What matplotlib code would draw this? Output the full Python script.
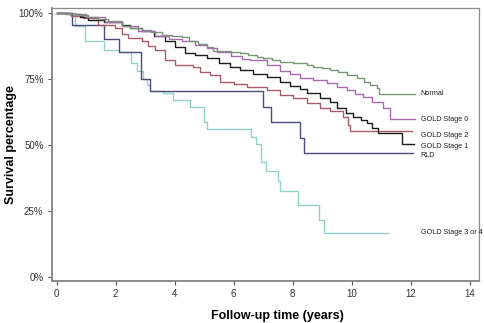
import matplotlib
matplotlib.use('Agg')
import matplotlib.pyplot as plt
from matplotlib.ticker import FuncFormatter

plt.rcParams['font.family'] = ['Liberation Sans', 'DejaVu Sans']

# survival curves (time in years, survival in %)
normal_t = [0, 0.3, 0.7, 1.07, 1.4, 1.75, 2.2, 2.5, 2.88, 3.2, 3.56, 3.9, 4.24, 4.5, 4.8, 5.1,
            5.31, 5.9, 6.21, 6.5, 6.78, 7.0, 7.3, 7.57, 8.0, 8.47, 8.7, 9.0, 9.26, 9.55, 9.83,
            10.17, 10.4, 10.62, 10.85, 10.92, 12.15]
normal_s = [100, 99.7, 99.2, 98.7, 97.8, 96.9, 95.0, 94.4, 93.7, 92.8, 91.8, 91.3, 90.8, 89.6, 88.4, 87.0,
            85.7, 85.2, 84.7, 84.0, 83.4, 82.8, 82.2, 81.6, 81.0, 80.5, 79.7, 79.2, 78.4, 77.5, 76.5,
            75.3, 74.0, 72.7, 71.5, 69.5, 69.5]

gold0_t = [0, 0.5, 1.0, 1.64, 2.2, 2.77, 3.33, 3.8, 4.24, 4.7, 5.1, 5.42, 5.9, 6.27, 6.55, 7.12,
           7.57, 7.9, 8.25, 8.7, 9.15, 9.5, 9.83, 10.1, 10.39, 10.7, 11.07, 11.3, 12.15]
gold0_s = [100, 99.5, 98.5, 96.8, 95.0, 93.3, 91.2, 90.3, 89.5, 88.0, 86.6, 85.3, 83.7, 82.6, 82.2, 80.3,
           78.0, 76.8, 75.3, 74.5, 73.4, 72.0, 70.8, 69.5, 68.3, 66.5, 63.9, 59.8, 59.8]

gold1_t = [0, 0.4, 0.8, 1.07, 1.6, 2.2, 2.5, 2.88, 3.3, 3.67, 4.01, 4.35, 4.7, 5.08, 5.5, 5.87,
           6.2, 6.66, 7.12, 7.57, 7.9, 8.25, 8.5, 8.93, 9.26, 9.49, 9.8, 10.05, 10.3, 10.51, 10.7,
           10.9, 11.69, 12.1]
gold1_s = [100, 99.5, 98.5, 97.5, 96.5, 95.6, 94.4, 93.1, 91.3, 89.3, 87.0, 85.0, 84.2, 82.8, 81.0, 79.5,
           78.6, 77.1, 75.9, 74.0, 72.5, 71.2, 69.8, 67.7, 66.3, 64.0, 62.0, 60.7, 59.5, 58.2, 56.5,
           54.4, 50.4, 50.4]

gold2_t = [0, 0.5, 0.9, 1.41, 1.98, 2.2, 2.43, 2.88, 3.1, 3.33, 3.67, 4.01, 4.63, 4.86, 5.2, 5.54,
           6.0, 6.44, 7.12, 7.57, 8.02, 8.47, 8.93, 9.26, 9.72, 9.89, 9.94, 12.03]
gold2_s = [100, 99.0, 98.0, 95.6, 94.3, 92.0, 90.5, 89.3, 87.5, 86.1, 82.3, 80.4, 79.5, 77.8, 76.5, 74.0,
           73.0, 72.1, 70.8, 68.9, 67.7, 65.8, 63.9, 63.0, 60.7, 57.6, 55.3, 55.3]

rld_t = [0, 0.51, 1.61, 2.11, 2.86, 3.16, 6.98, 7.25, 8.25, 8.39, 12.08]
rld_s = [100, 95.5, 90.2, 85.3, 75.1, 70.3, 64.3, 58.7, 52.8, 47.0, 47.0]

gold34_t = [0, 0.62, 0.96, 1.62, 2.12, 2.52, 2.71, 2.94, 3.05, 3.16, 3.61, 3.95, 4.52, 5.0, 5.08,
            6.59, 6.74, 6.93, 7.08, 7.51, 7.57, 8.17, 8.90, 9.07, 11.24]
gold34_s = [100, 95.2, 89.3, 86.0, 85.4, 81.0, 78.2, 75.1, 72.6, 70.3, 69.7, 67.2, 64.3, 58.6, 55.9,
            52.9, 50.3, 43.7, 40.2, 36.4, 32.6, 27.3, 21.6, 16.7, 16.7]

labels = ['Normal', 'GOLD Stage 0', 'GOLD Stage 2', 'GOLD Stage 1', 'RLD', 'GOLD Stage 3 or 4']
label_y = [69.5, 59.8, 53.8, 49.6, 46.2, 16.7]
colors = ['#7a967a', '#a968b2', '#a85c6a', '#1c1c1c', '#4c4c80', '#8fd3c8']

curves = [(normal_t, normal_s), (gold0_t, gold0_s), (gold2_t, gold2_s),
          (gold1_t, gold1_s), (rld_t, rld_s), (gold34_t, gold34_s)]

fig = plt.figure(figsize=(4.85, 3.23), dpi=100)
ax = fig.add_axes([0.107, 0.130, 0.881, 0.845])

# draw low curves first so the upper ones sit on top
for i in [5, 4, 2, 3, 1, 0]:
    t, s = curves[i]
    ax.plot(t, s, drawstyle='steps-post', color=colors[i], lw=1.0)

for i, lab in enumerate(labels):
    ax.text(12.34, label_y[i], lab, fontsize=5.2, va='center', ha='left', color='#222222')

ax.set_xlim(-0.16, 14.32)
ax.set_ylim(-1.5, 101.9)
ax.set_xticks(range(0, 15, 2))
ax.set_yticks([0, 25, 50, 75, 100])
ax.yaxis.set_major_formatter(FuncFormatter(lambda v, p: f'{int(v)}%'))
ax.tick_params(labelsize=7, length=3, width=0.8, color='#555555', labelcolor='#333333', pad=3)

for side in ['left', 'bottom']:
    ax.spines[side].set_color('#8c8c8c')
    ax.spines[side].set_linewidth(1.4)
for side in ['top', 'right']:
    ax.spines[side].set_color('#8c8c8c')
    ax.spines[side].set_linewidth(0.9)

ax.set_xlabel('Follow-up time (years)', fontsize=9, fontweight='bold')
ax.set_ylabel('Survival percentage', fontsize=9, fontweight='bold')
ax.xaxis.set_label_coords(0.527, -0.105)
ax.yaxis.set_label_coords(-0.082, 0.5)

fig.savefig('out.png', dpi=100)
